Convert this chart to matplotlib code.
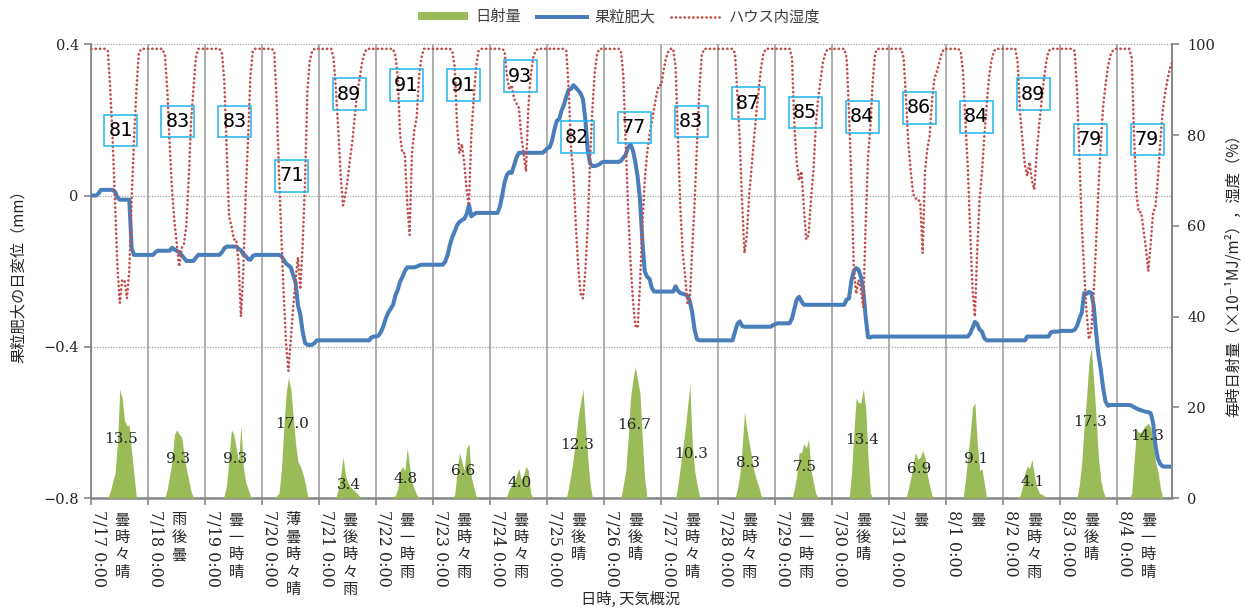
import numpy as np
import matplotlib.pyplot as plt
import matplotlib.transforms as mtransforms
from matplotlib.patches import Patch, Rectangle
from matplotlib.lines import Line2D

JP = ['Noto Sans CJK JP', 'DejaVu Sans']
plt.rcParams['font.family'] = ['DejaVu Serif']

days = ['7/17', '7/18', '7/19', '7/20', '7/21', '7/22', '7/23', '7/24', '7/25', '7/26',
        '7/27', '7/28', '7/29', '7/30', '7/31', '8/1', '8/2', '8/3', '8/4']
weather = ['曇時々晴', '雨後曇', '曇一時晴', '薄曇時々晴', '曇後時々雨', '曇一時雨', '曇時々雨',
           '曇時々雨', '曇後晴', '曇後晴', '曇時々晴', '曇時々雨', '曇一時雨', '曇後晴', '曇', '曇',
           '曇時々雨', '曇後晴', '曇一時晴']
# daily total radiation (MJ/m2) and daily mean humidity (%)
solar_total = [13.5, 9.3, 9.3, 17.0, 3.4, 4.8, 6.6, 4.0, 12.3, 16.7, 10.3, 8.3, 7.5, 13.4, 6.9, 9.1, 4.1, 17.3, 14.3]
rh_mean = [81, 83, 83, 71, 89, 91, 91, 93, 82, 77, 83, 87, 85, 84, 86, 84, 89, 79, 79]

# hourly greenhouse humidity (%), one row per day, 0:00-23:00
rh = [
    [99, 99, 99, 99, 99, 99, 99, 98.5, 90, 79, 65, 51, 43, 48, 48, 44, 50, 66, 79, 90, 98, 99, 99, 99],
    [99, 99, 99, 99, 99, 99, 99, 97.5, 90, 78, 68, 61, 56, 51, 55, 56, 60, 70, 83, 90, 97, 99, 99, 99],
    [99, 99, 99, 99, 99, 99, 99, 98, 92, 77, 62, 60, 57, 57, 52, 40, 50, 67, 79, 93, 98.5, 99, 99, 99],
    [99, 99, 99, 99, 99, 98.5, 88, 72, 58, 45, 34, 28, 35, 42, 48, 53, 46, 56, 70, 90, 96.5, 98.5, 99, 99],
    [99, 99, 99, 99, 99, 99, 97, 90, 81, 71, 64.5, 67, 70.5, 75, 79, 84.5, 89.5, 92.5, 96, 98, 99, 99, 99, 99],
    [99, 99, 99, 99, 99, 99, 99, 99, 97.5, 93, 80, 76, 76, 65, 58, 76, 81, 84, 93, 97, 99, 99, 99, 99],
    [99, 99, 99, 99, 99, 99, 99, 99, 98.5, 95, 82, 76, 78, 74, 68, 64.5, 80, 88, 95, 98.5, 99, 99, 99, 99],
    [99, 99, 99, 99, 99, 99, 98.5, 93, 90, 91, 88, 87, 86, 80, 76, 72, 86, 93, 97, 98.5, 99, 99, 99, 99],
    [99, 99, 99, 99, 99, 99, 99, 99, 98.5, 90, 77, 71, 60, 51, 45, 44, 50, 60, 75, 86, 94, 98, 99, 99],
    [99, 99, 99, 99, 99, 99, 99, 98.5, 93, 78, 64, 52, 44, 38, 37.5, 47, 60, 70, 76, 80, 83, 86, 89, 91],
    [91, 94.5, 97, 98.5, 99, 99, 95, 79, 64, 54, 49, 43, 44, 55, 65, 78, 90, 97.5, 99, 99, 99, 99, 99, 99],
    [99, 99, 99, 99, 99, 99, 99, 98, 89, 79, 65, 54, 58, 67, 73, 79, 85, 90, 95, 98, 99, 99, 99, 99],
    [99, 99, 99, 99, 99, 99, 99, 97, 82, 74, 70, 72, 64, 57, 58, 66, 72, 82, 88, 92, 96, 98, 99, 99],
    [99, 99, 99, 99, 99, 99, 97, 85, 70, 51, 45, 48, 46, 42, 60, 75, 82, 92, 98, 99, 99, 99, 99, 99],
    [99, 99, 99, 99, 99, 99, 97, 88, 78, 72, 67, 66, 66, 65, 54, 72, 77, 80, 88, 92.5, 94, 96, 98, 99],
    [99, 99, 99, 99, 99, 99, 98.5, 94, 83, 73, 59, 46, 40, 55, 66, 72, 80, 87, 93, 96.5, 98.5, 99, 99, 99],
    [99, 99, 99, 99, 99, 99, 96, 85, 79, 73.5, 71, 74, 70, 68, 76, 82, 87, 92, 96, 98.5, 99, 99, 99, 99],
    [99, 99, 99, 99, 99, 99, 98.5, 90, 75, 60, 50, 41, 35, 37, 45, 56, 68, 78, 86.5, 91, 95, 97.5, 98.5, 99],
    [99, 99, 99, 99, 99, 99, 97, 80, 67, 63, 63, 59, 55, 50, 56, 63, 64, 70, 78, 85, 89, 92, 94.5, 96],
]

# hourly berry growth, change from 7/17 0:00 (mm)
growth = [
    [0, 0, 0, 0.005, 0.015, 0.015, 0.015, 0.015, 0.015, 0.015, 0.01, -0.005, -0.011, -0.011, -0.011, -0.011, -0.011, -0.14, -0.157, -0.157, -0.157, -0.157, -0.157, -0.157],
    [-0.157, -0.157, -0.157, -0.15, -0.146, -0.146, -0.146, -0.146, -0.146, -0.146, -0.138, -0.143, -0.146, -0.15, -0.157, -0.165, -0.173, -0.173, -0.173, -0.173, -0.165, -0.157, -0.157, -0.157],
    [-0.157, -0.157, -0.157, -0.157, -0.157, -0.157, -0.157, -0.15, -0.14, -0.135, -0.135, -0.135, -0.135, -0.135, -0.14, -0.145, -0.155, -0.16, -0.168, -0.17, -0.16, -0.157, -0.157, -0.157],
    [-0.157, -0.157, -0.157, -0.157, -0.157, -0.157, -0.157, -0.157, -0.16, -0.17, -0.18, -0.185, -0.19, -0.21, -0.23, -0.29, -0.315, -0.36, -0.39, -0.395, -0.395, -0.395, -0.39, -0.383],
    [-0.383, -0.383, -0.383, -0.383, -0.383, -0.383, -0.383, -0.383, -0.383, -0.383, -0.383, -0.383, -0.383, -0.383, -0.383, -0.383, -0.383, -0.383, -0.383, -0.383, -0.383, -0.383, -0.375, -0.373],
    [-0.373, -0.37, -0.36, -0.345, -0.325, -0.31, -0.3, -0.29, -0.265, -0.25, -0.228, -0.215, -0.2, -0.19, -0.19, -0.19, -0.19, -0.188, -0.185, -0.183, -0.183, -0.183, -0.183, -0.183],
    [-0.183, -0.183, -0.183, -0.183, -0.183, -0.175, -0.157, -0.13, -0.11, -0.095, -0.078, -0.07, -0.065, -0.062, -0.05, -0.025, -0.055, -0.05, -0.046, -0.046, -0.046, -0.046, -0.046, -0.046],
    [-0.046, -0.046, -0.046, -0.046, -0.03, 0.0, 0.035, 0.055, 0.062, 0.06, 0.08, 0.1, 0.113, 0.113, 0.113, 0.113, 0.113, 0.113, 0.113, 0.113, 0.113, 0.113, 0.113, 0.118],
    [0.125, 0.128, 0.145, 0.175, 0.198, 0.202, 0.225, 0.24, 0.262, 0.28, 0.282, 0.292, 0.285, 0.278, 0.27, 0.255, 0.2, 0.12, 0.085, 0.078, 0.078, 0.08, 0.083, 0.088],
    [0.089, 0.089, 0.089, 0.089, 0.089, 0.089, 0.089, 0.092, 0.1, 0.108, 0.128, 0.135, 0.12, 0.09, 0.05, -0.01, -0.12, -0.2, -0.215, -0.22, -0.245, -0.254, -0.254, -0.254],
    [-0.254, -0.254, -0.254, -0.254, -0.254, -0.254, -0.24, -0.252, -0.258, -0.26, -0.262, -0.265, -0.28, -0.31, -0.355, -0.38, -0.383, -0.383, -0.383, -0.383, -0.383, -0.383, -0.383, -0.383],
    [-0.383, -0.383, -0.383, -0.383, -0.383, -0.383, -0.383, -0.36, -0.34, -0.333, -0.345, -0.347, -0.347, -0.347, -0.347, -0.347, -0.347, -0.347, -0.347, -0.347, -0.347, -0.347, -0.347, -0.343],
    [-0.34, -0.338, -0.338, -0.338, -0.338, -0.338, -0.338, -0.325, -0.3, -0.275, -0.268, -0.28, -0.289, -0.289, -0.289, -0.289, -0.289, -0.289, -0.289, -0.289, -0.289, -0.289, -0.289, -0.289],
    [-0.289, -0.289, -0.289, -0.289, -0.289, -0.289, -0.275, -0.272, -0.225, -0.2, -0.192, -0.196, -0.215, -0.25, -0.32, -0.375, -0.375, -0.373, -0.373, -0.373, -0.373, -0.373, -0.373, -0.373],
    [-0.373, -0.373, -0.373, -0.373, -0.373, -0.373, -0.373, -0.373, -0.373, -0.373, -0.373, -0.373, -0.373, -0.373, -0.373, -0.373, -0.373, -0.373, -0.373, -0.373, -0.373, -0.373, -0.373, -0.373],
    [-0.373, -0.373, -0.373, -0.373, -0.373, -0.373, -0.373, -0.373, -0.373, -0.373, -0.365, -0.35, -0.334, -0.34, -0.355, -0.36, -0.378, -0.383, -0.383, -0.383, -0.383, -0.383, -0.383, -0.383],
    [-0.383, -0.383, -0.383, -0.383, -0.383, -0.383, -0.383, -0.383, -0.383, -0.383, -0.373, -0.373, -0.373, -0.373, -0.373, -0.373, -0.373, -0.373, -0.373, -0.373, -0.362, -0.36, -0.36, -0.36],
    [-0.358, -0.358, -0.358, -0.358, -0.358, -0.358, -0.355, -0.345, -0.325, -0.31, -0.258, -0.26, -0.255, -0.258, -0.29, -0.36, -0.42, -0.46, -0.51, -0.545, -0.556, -0.554, -0.554, -0.554],
    [-0.554, -0.554, -0.554, -0.554, -0.554, -0.554, -0.556, -0.56, -0.563, -0.566, -0.568, -0.57, -0.572, -0.573, -0.576, -0.6, -0.66, -0.695, -0.71, -0.716, -0.717, -0.717, -0.717, -0.717],
]

# hourly solar radiation (x0.1 MJ/m2)
solar = [
    [0, 0, 0, 0, 0, 0, 0, 0, 1.5, 3.5, 5.5, 12, 24, 22, 17, 16, 16, 10, 5, 0, 0, 0, 0, 0],
    [0, 0, 0, 0, 0, 0, 0, 0, 2, 5, 8, 14, 15, 14, 13.5, 10, 6.5, 4, 1.5, 0, 0, 0, 0, 0],
    [0, 0, 0, 0, 0, 0, 0, 0, 0.5, 3, 9, 15, 14, 11, 8, 16, 7, 3.5, 2, 0.5, 0, 0, 0, 0],
    [0, 0, 0, 0, 0, 0, 0.5, 1, 6, 15, 23, 26.5, 24, 18, 12, 8, 7, 5.5, 3.5, 0.5, 0, 0, 0, 0],
    [0, 0, 0, 0, 0, 0, 0, 0.2, 2, 5, 9, 5, 3.5, 2.5, 2, 1.5, 1, 0.3, 0, 0, 0, 0, 0, 0],
    [0, 0, 0, 0, 0, 0, 0, 0.3, 0.5, 2, 6, 7, 6, 11, 7, 3.5, 2, 0.7, 0, 0, 0, 0, 0, 0],
    [0, 0, 0, 0, 0, 0, 0, 0, 0, 0.7, 6, 10, 8, 6, 11, 12, 4.5, 2.5, 0.5, 0, 0, 0, 0, 0],
    [0, 0, 0, 0, 0, 0, 0, 0.5, 2, 3, 3.5, 5, 6.5, 4, 5, 7, 6, 1, 0, 0, 0, 0, 0, 0],
    [0, 0, 0, 0, 0, 0, 0, 0, 0, 2.5, 5.5, 9, 13.5, 18, 21, 24, 16, 9, 3, 0, 0, 0, 0, 0],
    [0, 0, 0, 0, 0, 0, 0, 0, 3, 6, 13, 22, 26, 29, 26, 23, 13, 4, 0, 0, 0, 0, 0, 0],
    [0, 0, 0, 0, 0, 0, 0, 3, 7, 11, 15, 20, 25, 12, 6, 3, 0.5, 0, 0, 0, 0, 0, 0, 0],
    [0, 0, 0, 0, 0, 0, 0, 0, 2, 5, 11, 19, 15, 12, 9, 6, 4, 2.5, 0.5, 0, 0, 0, 0, 0],
    [0, 0, 0, 0, 0, 0, 0, 0, 2, 5, 10, 10, 12, 11, 13, 6, 3.5, 1, 0, 0, 0, 0, 0, 0],
    [0, 0, 0, 0, 0, 0, 0, 0, 5, 14, 22, 21, 21, 24, 20, 9, 1, 0, 0, 0, 0, 0, 0, 0],
    [0, 0, 0, 0, 0, 0, 0, 0, 2, 4.5, 7.5, 10, 8.5, 9, 10.5, 9, 5, 2.5, 0.5, 0, 0, 0, 0, 0],
    [0, 0, 0, 0, 0, 0, 0, 0, 4, 9, 14, 20, 21, 12, 6, 6.5, 3, 0, 0, 0, 0, 0, 0, 0],
    [0, 0, 0, 0, 0, 0, 0, 0.5, 2.5, 5.5, 7, 6.5, 8.5, 5, 2.5, 1.2, 0.8, 0.6, 0, 0, 0, 0, 0, 0],
    [0, 0, 0, 0, 0, 0, 0, 0, 3, 8, 16, 22, 30, 33, 26, 18, 9, 4, 1.5, 0, 0, 0, 0, 0],
    [0, 0, 0, 0, 0, 0, 1, 8, 15, 14.5, 14.5, 15.5, 16, 16.5, 15.5, 13, 8, 6, 2.5, 0, 0, 0, 0, 0],
]

# humidity boxes nudged off the growth line
box_shift = {8: -2.5, 9: 4.7}

rh_all = np.concatenate(rh)
growth_all = np.concatenate(growth)
solar_all = np.concatenate(solar)
hours = np.arange(len(rh_all))

fig = plt.figure(figsize=(12.47, 6.10), dpi=100)
ax = fig.add_axes([0.0732, 0.1836, 0.8667, 0.7438])
ax2 = ax.twinx()

ax.set_xlim(0, hours[-1])
ax.set_ylim(-0.8, 0.4)
ax2.set_ylim(0, 100)

ax2.fill_between(hours, solar_all, color='#9BBB59', lw=0, zorder=1)
ax2.plot(hours, growth_all, color='#4A7EBB', lw=2.9, zorder=2,
         transform=ax.transData, solid_joinstyle='round')
ax2.plot(hours, rh_all, color='#C0504D', lw=1.9, ls=(0, (0.1, 1.55)),
         dash_capstyle='round', zorder=3)
ax2.set_ylim(0, 100)
ax2.set_xlim(0, hours[-1])

for d in range(len(days)):
    mid = 24 * d + 12.5
    y = rh_mean[d] + box_shift.get(d, 0)
    # fixed-size frame (inches) centred on the label position
    frame_tr = fig.dpi_scale_trans + mtransforms.ScaledTranslation(mid, y, ax2.transData)
    ax2.add_patch(Rectangle((-0.165, -0.158), 0.33, 0.316, transform=frame_tr,
                            fc='none', ec='#1FB4EC', lw=1.1, zorder=5, clip_on=False))
    ax2.text(mid, y, str(rh_mean[d]), ha='center', va='center',
             fontfamily='DejaVu Sans Mono', fontsize=14.5, color='black', zorder=5)
    ax2.text(mid, solar_total[d] - 0.6, f'{solar_total[d]:.1f}', ha='center', va='center',
             fontsize=11, color='#262626', zorder=5)

# axes, ticks and grid
ax.set_yticks([-0.8, -0.4, 0, 0.4])
ax.set_yticklabels(['\u22120.8', '\u22120.4', '0', '0.4'])
ax2.set_yticks(range(0, 101, 20))
ax.set_xticks(np.arange(0, len(hours), 24))
ax.set_xticklabels([])
ax.grid(axis='y', ls=(0, (1, 1.2)), color='#a6a6a6', lw=0.9)
ax.grid(axis='x', color='#a0a0a0', lw=1.2)
ax.set_axisbelow(True)

for a in (ax, ax2):
    a.tick_params(axis='both', direction='out', length=5, width=1.2, color='#868686',
                  labelsize=10.5, labelcolor='#262626')
    a.spines['top'].set_visible(False)
    for s in ('left', 'right', 'bottom'):
        a.spines[s].set_color('#868686')
        a.spines[s].set_linewidth(1.3)
ax.spines['bottom'].set_linewidth(1.8)
ax2.spines['left'].set_visible(False)
ax2.spines['bottom'].set_visible(False)
ax.tick_params(axis='y', pad=4)
ax2.tick_params(axis='y', pad=6)

# date and weather labels under each day
for d, (day, w) in enumerate(zip(days, weather)):
    ax.annotate(f'{day} 0:00', xy=(24 * d + 3, 0), xycoords=('data', 'axes fraction'),
                xytext=(0, -8.6), textcoords='offset points', rotation=270,
                ha='center', va='top', fontsize=11.5, color='#262626', annotation_clip=False)
    for k, ch in enumerate(w):
        ax.annotate(ch, xy=(24 * d + 13, 0), xycoords=('data', 'axes fraction'),
                    xytext=(0, -9.5 - 12.6 * k), textcoords='offset points',
                    ha='center', va='top', fontsize=11, fontfamily=JP, color='#262626',
                    annotation_clip=False)

fig.text(18 / 1247, 1 - 273 / 610, '果粒肥大の日変位（mm）', rotation=90, ha='center', va='center',
         fontsize=11, fontfamily=JP, color='#262626')
fig.text(1233 / 1247, 1 - 272 / 610, '毎時日射量（×10⁻¹MJ/m²），湿度（%）', rotation=90,
         ha='center', va='center', fontsize=11, fontfamily=JP, color='#262626')
fig.text(631 / 1247, 1 - 599 / 610, '日時, 天気概況', ha='center', va='center',
         fontsize=11, fontfamily=JP, color='#262626')

handles = [Patch(color='#9BBB59', lw=0),
           Line2D([], [], color='#4A7EBB', lw=2.9),
           Line2D([], [], color='#C0504D', lw=1.9, ls=(0, (0.1, 1.55)), dash_capstyle='round')]
fig.legend(handles, ['日射量', '果粒肥大', 'ハウス内湿度'], loc='center',
           bbox_to_anchor=(619 / 1247, 1 - 17 / 610), ncol=3, frameon=False,
           prop={'family': JP, 'size': 11}, handlelength=3.3, handleheight=0.5,
           handletextpad=0.5, columnspacing=1.0, labelcolor='#404040')

fig.savefig('out.png', dpi=100)
